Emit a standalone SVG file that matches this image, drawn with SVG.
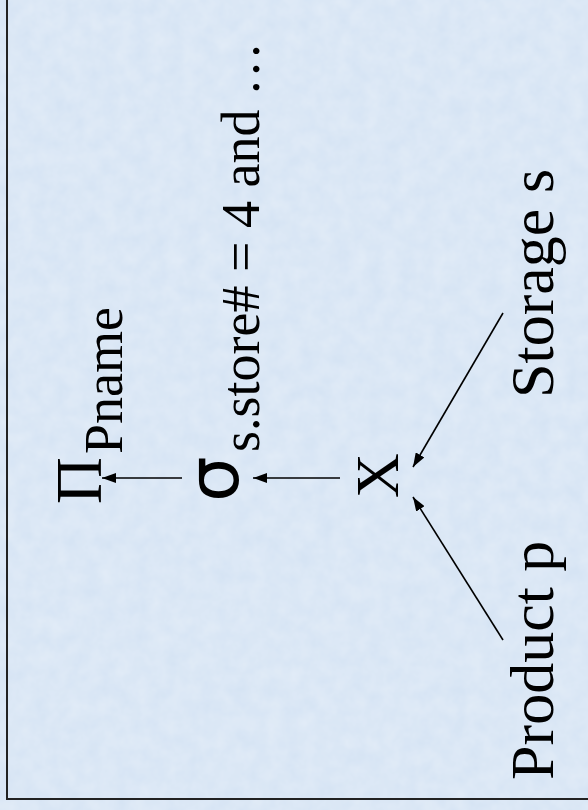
<svg xmlns="http://www.w3.org/2000/svg" width="588" height="810" viewBox="0 0 588 810">
  <defs>
    <style>
      .c { stroke: #000; stroke-width: 1.6; fill: none; }
      .t { font-family: "Liberation Serif", "Times New Roman", Times, Tinos, "Noto Serif", "DejaVu Serif", FreeSerif, serif; fill: #000; }
    </style>
    <marker id="ah" viewBox="0 0 14 10" refX="14" refY="5" markerWidth="14" markerHeight="10" orient="auto" markerUnits="userSpaceOnUse">
      <path d="M0,0 L14,5 L0,10 z" fill="#000"/>
    </marker>
    <filter id="tex" x="0" y="0" width="100%" height="100%">
      <feTurbulence type="fractalNoise" baseFrequency="0.06" numOctaves="3" seed="4"/>
      <feColorMatrix type="matrix" values="0 0 0 0 1  0 0 0 0 1  0 0 0 0 1  0 0 0 0.35 -0.05"/>
    </filter>
  </defs>

  <rect x="0" y="0" width="588" height="810" fill="#d6e4f4"/>
  <rect x="0" y="0" width="588" height="810" filter="url(#tex)"/>
  <rect x="7" y="-5" width="590" height="804" fill="none" stroke="#222" stroke-width="2"/>

  <g id="connectors">
    <line class="c" x1="182" y1="478" x2="102" y2="478" marker-end="url(#ah)"/>
    <line class="c" x1="340" y1="478" x2="253" y2="478" marker-end="url(#ah)"/>
    <line class="c" x1="503" y1="313" x2="413" y2="467" marker-end="url(#ah)"/>
    <line class="c" x1="503" y1="640" x2="413" y2="497" marker-end="url(#ah)"/>
  </g>

  <g id="projection">
    <text class="t" transform="translate(101,504) rotate(-90)" font-size="65">Π</text>
    <text class="t" transform="translate(122,454) rotate(-90)" font-size="54">Pname</text>
  </g>

  <g id="selection">
    <text transform="translate(238,502) rotate(-90)" font-family="'DejaVu Sans', sans-serif" font-size="72">σ</text>
    <text class="t" transform="translate(259,452) rotate(-90)" font-size="54">s.store# = 4 and …</text>
  </g>

  <g id="product">
    <text class="t" transform="translate(398,498) rotate(-90)" font-size="62">X</text>
  </g>

  <g id="storage">
    <text class="t" transform="translate(553,398) rotate(-90)" font-size="62">Storage s</text>
  </g>

  <g id="product-p">
    <text class="t" transform="translate(553,780) rotate(-90)" font-size="62">Product p</text>
  </g>
</svg>
